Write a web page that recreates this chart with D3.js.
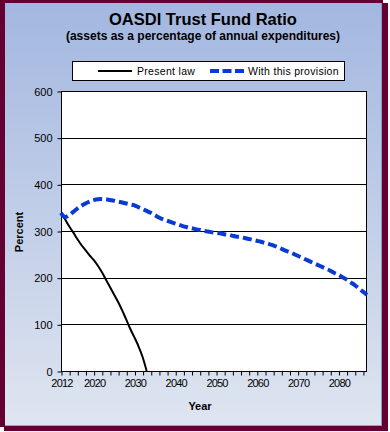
<!DOCTYPE html>
<html><head><meta charset="utf-8">
<script src="https://cdn.jsdelivr.net/npm/d3@7"></script>
<style>body{margin:0;background:#fff}svg{display:block;font-family:Arial,"Liberation Sans",sans-serif}</style>
</head><body><svg id="c" width="390" height="432"></svg>
<script>
const title = "OASDI Trust Fund Ratio";
const subtitle = "(assets as a percentage of annual expenditures)";
const seriesNames = ["Present law", "With this provision"];
const presentYears = [2012,2013,2014,2015,2016,2017,2018,2019,2020,2021,2022,2023,2024,2025,2026,2027,2028,2029,2030,2031,2032,2033];
const presentLaw = [339,325,310,297,283,270,259,248,238,226,212,196,180,164,148,130,110,90,72,53,30,0];
const provisionYears = d3.range(2012, 2088);
const withProvision = [339,330,334,341,348,354,359,363,366,368,368.5,368,366.5,365,363,361,359,357,355,351,347,343,339,334,329,325,322,319,316,313,310,308,306,304,302,300,299,297,296,295,293,292,290,288,287,285,283,281,279,277,274,272,269,266,262,258,255,251,247,243,239,235,231,227,223,219,215,210,206,201,196,190,184,177,170,163];
const yTicks = [0,100,200,300,400,500,600];
const xTickLabels = [2012,2020,2030,2040,2050,2060,2070,2080];

const svg = d3.select("#c");
const defs = svg.append("defs");
const g1 = defs.append("linearGradient").attr("id","bg").attr("x1",0).attr("y1",0).attr("x2",0).attr("y2",1);
g1.append("stop").attr("offset","0%").attr("stop-color","#a3b7e0");
g1.append("stop").attr("offset","100%").attr("stop-color","#dfe5f0");

// frame with shadow
svg.append("rect").attr("x",4).attr("y",3).attr("width",384).attr("height",428).attr("fill","#650032");
svg.append("rect").attr("x",0).attr("y",0).attr("width",383).attr("height",427).attr("fill","#650032");
svg.append("rect").attr("x",5).attr("y",3).attr("width",377).attr("height",423).attr("fill","url(#bg)");
svg.append("line").attr("x1",5).attr("x2",382).attr("y1",425.5).attr("y2",425.5).attr("stroke","#9aa3b3").attr("stroke-width",1);
svg.append("line").attr("x1",381.5).attr("x2",381.5).attr("y1",3).attr("y2",426).attr("stroke","#8b9bc0").attr("stroke-width",1);

svg.append("text").attr("x",203).attr("y",25).attr("text-anchor","middle").attr("font-size",16.5).attr("font-weight","bold").text(title);
svg.append("text").attr("x",203).attr("y",40).attr("text-anchor","middle").attr("font-size",12).attr("font-weight","bold").text(subtitle);

const x = d3.scaleLinear().domain([2012,2087]).range([61,367]);
const y = d3.scaleLinear().domain([0,600]).range([371,91]);

svg.append("rect").attr("x",61).attr("y",91).attr("width",306).attr("height",280).attr("fill","#fff");

// gridlines
svg.append("g").selectAll("line").data(yTicks.filter(d=>d>0&&d<600)).join("line")
  .attr("x1",61).attr("x2",367).attr("y1",d=>Math.round(y(d))+0.5).attr("y2",d=>Math.round(y(d))+0.5)
  .attr("stroke","#000").attr("stroke-width",1);

// axes
const yAxis = d3.axisLeft(y).tickValues(yTicks).tickSize(4).tickPadding(5);
const ya = svg.append("g").attr("transform","translate(61.5,0.5)").call(yAxis);
ya.select(".domain").remove();
ya.selectAll("text").attr("font-size",11).attr("font-family","Arial, sans-serif").attr("fill","#000");

const xAxis = d3.axisBottom(x).tickValues(d3.range(2012,2088,2)).tickSize(4).tickFormat(d=>xTickLabels.includes(d)?d:"").tickPadding(4);
const xa = svg.append("g").attr("transform","translate(0.5,371.5)").call(xAxis);
xa.select(".domain").remove();
xa.selectAll("text").attr("font-size",11).attr("letter-spacing",-0.8).attr("font-family","Arial, sans-serif").attr("fill","#000");

// plot border
svg.append("rect").attr("x",61.5).attr("y",91.5).attr("width",305).attr("height",280).attr("fill","none").attr("stroke","#000");

const line = d3.line().x(d=>x(d[0])).y(d=>y(d[1])).curve(d3.curveMonotoneX);
svg.append("path").datum(presentYears.map((d,i)=>[d,presentLaw[i]])).attr("d",line)
  .attr("fill","none").attr("stroke","#000").attr("stroke-width",2);
svg.append("path").datum(provisionYears.map((d,i)=>[d,withProvision[i]])).attr("d",line)
  .attr("fill","none").attr("stroke","#0a3ad6").attr("stroke-width",4).attr("stroke-dasharray","9,4");

// axis titles
svg.append("text").attr("transform","translate(23,232) rotate(-90)").attr("text-anchor","middle").attr("font-size",11).attr("font-weight","bold").text("Percent");
svg.append("text").attr("x",200).attr("y",410).attr("text-anchor","middle").attr("font-size",11).attr("font-weight","bold").text("Year");

// legend
const lg = svg.append("g");
lg.append("rect").attr("x",72.5).attr("y",61.5).attr("width",272).attr("height",19).attr("fill","#fff").attr("stroke","#000");
lg.append("line").attr("x1",98).attr("x2",132).attr("y1",71).attr("y2",71).attr("stroke","#000").attr("stroke-width",2);
lg.append("text").attr("x",137).attr("y",75).attr("font-size",10.5).attr("letter-spacing",0.3).text(seriesNames[0]);
lg.append("line").attr("x1",210).attr("x2",244).attr("y1",71).attr("y2",71).attr("stroke","#0a3ad6").attr("stroke-width",4).attr("stroke-dasharray","9,3.5");
lg.append("text").attr("x",248).attr("y",75).attr("font-size",10.5).attr("letter-spacing",0.3).text(seriesNames[1]);
</script></body></html>
